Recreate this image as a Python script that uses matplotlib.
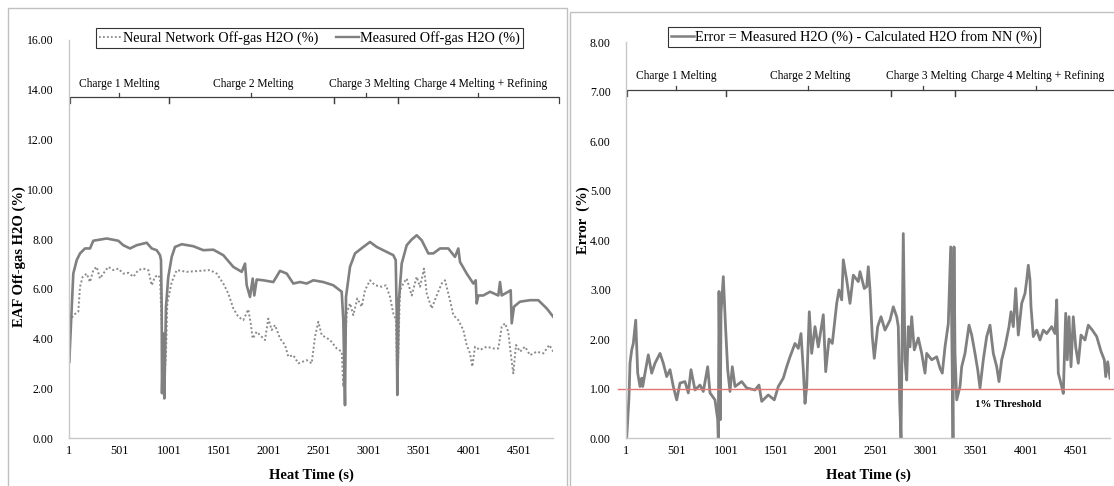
"""
EAF off-gas H2O: measured vs neural network, and the error between them.
Values read off the reference picture.
"""

import matplotlib.pyplot as plt
from matplotlib.patches import Rectangle
from matplotlib.lines import Line2D

plt.rcParams['font.family'] = ['Liberation Serif', 'DejaVu Serif']

GREY = '#808080'
LGREY = '#c0c0c0'
RED = '#e57373'

# Measured off-gas H2O (%)
t_meas = [3, 17, 43, 77, 110, 160, 210, 243, 377, 493, 543, 610, 677, 777, 827, 877,
          910, 920, 927, 930, 943, 953, 970, 993, 1027, 1060, 1127, 1243, 1343, 1443,
          1543, 1643, 1727, 1760, 1777, 1810, 1837, 1853, 1877, 1943, 2043, 2110, 2177,
          2243, 2310, 2377, 2443, 2543, 2643, 2727, 2743, 2760, 2770, 2810, 2860, 2943,
          3010, 3077, 3177, 3243, 3267, 3277, 3283, 3297, 3327, 3377, 3427, 3477, 3527,
          3593, 3643, 3710, 3793, 3860, 3893, 3910, 3977, 4043, 4067, 4077, 4093, 4143,
          4210, 4293, 4310, 4327, 4393, 4417, 4427, 4450, 4510, 4610, 4693, 4777, 4843]
h2o_meas = [3.06, 4.34, 6.61, 7.15, 7.42, 7.62, 7.62, 7.93, 8.02, 7.93, 7.75, 7.62, 7.75,
            7.85, 7.62, 7.55, 7.35, 7.15, 5.28, 1.80, 4.20, 1.59, 5.28, 6.48, 7.28, 7.68,
            7.79, 7.71, 7.55, 7.57, 7.35, 6.88, 6.68, 7.01, 6.14, 5.67, 6.41, 5.73, 6.37,
            6.34, 6.27, 6.72, 6.61, 6.21, 6.27, 6.21, 6.34, 6.27, 6.14, 5.88, 4.74, 1.32,
            5.67, 6.88, 7.42, 7.68, 7.88, 7.68, 7.48, 7.35, 7.15, 5.01, 1.73, 5.41, 7.01,
            7.75, 7.98, 8.15, 7.95, 7.42, 7.42, 7.62, 7.62, 7.28, 7.62, 7.08, 6.61, 6.21,
            6.34, 5.41, 5.73, 5.73, 5.88, 5.73, 6.27, 5.73, 5.88, 5.94, 4.61, 5.28, 5.48,
            5.54, 5.54, 5.21, 4.87]

# Neural network off-gas H2O (%)
t_nn = [3, 17, 43, 93, 110, 137, 177, 210, 243, 277, 310, 343, 393, 443, 493, 543, 593,
        643, 693, 743, 793, 827, 860, 893, 910, 950, 970, 983, 1027, 1077, 1177, 1310,
        1410, 1477, 1543, 1593, 1643, 1693, 1743, 1793, 1817, 1837, 1877, 1927, 1960,
        1993, 2027, 2060, 2110, 2160, 2193, 2243, 2293, 2377, 2427, 2460, 2493, 2527,
        2610, 2677, 2727, 2743, 2777, 2810, 2843, 2883, 2927, 2960, 3010, 3060, 3127,
        3170, 3210, 3243, 3270, 3283, 3310, 3343, 3377, 3427, 3477, 3510, 3550, 3577,
        3627, 3677, 3727, 3760, 3810, 3843, 3893, 3943, 3977, 4010, 4033, 4060, 4110,
        4177, 4243, 4293, 4327, 4360, 4393, 4417, 4443, 4470, 4510, 4560, 4610, 4677,
        4743, 4803, 4843]
h2o_nn = [3.13, 4.74, 4.94, 5.08, 6.08, 6.48, 6.61, 6.27, 6.75, 6.88, 6.41, 6.61, 6.88,
          6.75, 6.81, 6.61, 6.64, 6.48, 6.75, 6.81, 6.75, 6.14, 6.48, 6.55, 6.41, 2.06,
          3.40, 5.41, 6.27, 6.75, 6.68, 6.72, 6.75, 6.61, 6.21, 5.81, 5.21, 4.87, 4.74,
          5.17, 4.61, 4.00, 4.27, 4.07, 3.94, 4.80, 4.34, 4.54, 4.00, 3.74, 3.27, 3.33,
          3.00, 3.13, 3.00, 4.07, 4.67, 4.14, 3.94, 3.60, 3.47, 2.06, 5.01, 5.41, 4.94,
          5.61, 5.28, 5.94, 6.34, 6.14, 6.08, 6.14, 5.67, 5.01, 4.74, 2.00, 5.94, 6.21,
          6.41, 5.73, 6.48, 6.08, 6.81, 5.81, 5.21, 5.73, 6.21, 6.34, 5.54, 4.94, 4.74,
          4.34, 3.74, 3.40, 2.87, 3.67, 3.54, 3.67, 3.60, 3.60, 4.47, 4.61, 4.27, 3.40,
          2.60, 3.74, 3.47, 3.67, 3.33, 3.47, 3.40, 3.74, 3.47]

# Error = measured - NN (%)
t_err = [7, 17, 30, 40, 57, 73, 97, 117, 140, 157, 167, 190, 223, 257, 290, 340, 373,
         407, 440, 473, 507, 540, 590, 623, 650, 690, 740, 773, 817, 840, 890, 917, 923,
         930, 943, 950, 973, 997, 1017, 1040, 1063, 1090, 1157, 1207, 1290, 1330, 1357,
         1423, 1483, 1523, 1573, 1607, 1640, 1690, 1723, 1750, 1773, 1790, 1807, 1833,
         1857, 1890, 1923, 1973, 1997, 2030, 2063, 2107, 2130, 2157, 2173, 2207, 2240,
         2273, 2323, 2340, 2383, 2407, 2423, 2440, 2463, 2483, 2517, 2550, 2590, 2640,
         2673, 2707, 2723, 2737, 2750, 2773, 2790, 2807, 2823, 2840, 2857, 2883, 2923,
         2957, 2990, 3007, 3057, 3107, 3140, 3163, 3190, 3223, 3247, 3257, 3270, 3280,
         3290, 3307, 3340, 3357, 3390, 3430, 3457, 3490, 3517, 3540, 3573, 3607, 3640,
         3673, 3707, 3730, 3757, 3790, 3830, 3850, 3873, 3897, 3923, 3957, 3990, 4007,
         4023, 4040, 4050, 4073, 4107, 4140, 4173, 4207, 4257, 4290, 4307, 4323, 4357,
         4373, 4397, 4413, 4430, 4450, 4473, 4497, 4523, 4550, 4590, 4623, 4663, 4707,
         4750, 4783, 4797, 4817, 4840]
err = [0.00, 0.37, 0.83, 1.51, 1.78, 1.91, 2.38, 1.31, 1.04, 1.21, 1.04, 1.31, 1.68, 1.31,
       1.51, 1.71, 1.51, 1.24, 1.38, 1.04, 0.77, 1.11, 1.14, 0.91, 1.38, 0.97, 1.07, 0.94,
       1.44, 0.91, 0.77, 0.37, 0.00, 2.96, 0.37, 2.52, 3.26, 2.18, 1.38, 0.94, 1.44, 1.04,
       1.14, 1.01, 0.97, 1.07, 0.74, 0.87, 0.77, 1.04, 1.21, 1.44, 1.64, 1.91, 1.81, 2.11,
       1.38, 0.70, 1.04, 2.55, 1.71, 2.25, 1.84, 2.49, 1.34, 2.00, 1.91, 2.72, 2.99, 2.79,
       3.60, 3.19, 2.72, 3.29, 3.16, 3.36, 3.02, 3.06, 3.46, 2.99, 2.05, 1.61, 2.25, 2.45,
       2.18, 2.38, 2.65, 2.45, 2.25, 0.70, 0.00, 4.13, 1.58, 1.17, 2.25, 1.84, 2.45, 1.78,
       2.02, 1.71, 1.31, 1.71, 1.58, 1.64, 1.41, 1.31, 1.84, 2.31, 3.86, 2.31, 0.00, 3.86,
       1.71, 0.77, 1.04, 1.44, 1.71, 2.28, 2.08, 1.71, 1.38, 1.01, 1.58, 2.05, 2.28, 1.71,
       1.44, 1.14, 1.58, 1.84, 2.25, 2.55, 2.25, 3.02, 2.08, 2.72, 2.92, 3.19, 3.49, 3.19,
       2.65, 2.05, 2.18, 1.98, 2.18, 2.11, 2.25, 2.11, 2.79, 1.31, 1.04, 0.90, 2.52, 1.58,
       2.45, 1.44, 2.45, 1.84, 1.51, 2.08, 1.98, 2.28, 2.18, 2.05, 1.75, 1.58, 1.24, 1.54,
       1.21]

threshold = 1.0
x_ticks = [1, 501, 1001, 1501, 2001, 2501, 3001, 3501, 4001, 4501]

# charge brackets: (start, end, label, label x)
charges = [
    (10, 995, 'Charge 1 Melting', 500),
    (995, 2645, 'Charge 2 Melting', 1840),
    (2645, 3290, 'Charge 3 Melting', 3000),
    (3290, 4900, 'Charge 4 Melting + Refining', 4120),
]

W, H = 1114, 486
fig = plt.figure(figsize=(W / 100, H / 100), dpi=100)

# panel borders
fig.patches.append(Rectangle((8 / W, -0.1), 559 / W, 1.1 - 8 / H, transform=fig.transFigure,
                             fill=False, edgecolor=LGREY, lw=1))
fig.patches.append(Rectangle((570 / W, -0.1), 560 / W, 1.1 - 12 / H, transform=fig.transFigure,
                             fill=False, edgecolor=LGREY, lw=1))

ax1 = fig.add_axes([69 / W, 48 / H, 484 / W, 398 / H])
ax2 = fig.add_axes([626 / W, 48 / H, 484 / W, 396 / H])


def style_axis(ax, ymax, ystep):
    ax.set_xlim(0, 4840)
    ax.set_ylim(0, ymax)
    ax.set_xticks(x_ticks)
    ax.set_xticklabels([str(t) for t in x_ticks])
    n = int(ymax / ystep) + 1
    ax.set_yticks([i * ystep for i in range(n)])
    ax.set_yticklabels(['%.2f' % (i * ystep) for i in range(n)])
    for s in ['top', 'right']:
        ax.spines[s].set_visible(False)
    for s in ['left', 'bottom']:
        ax.spines[s].set_color('#c8c8c8')
        ax.spines[s].set_linewidth(1.0)
    ax.tick_params(axis='y', length=0, pad=11, labelsize=8.5)
    ax.tick_params(axis='x', length=0, pad=5, labelsize=8.8)
    ax.set_xlabel('Heat Time (s)', fontsize=10.5, fontweight='bold', labelpad=8)


def draw_brackets(ax, ybar, dy, ylab):
    for a, b, lab, xl in charges:
        ax.plot([a, a, b, b], [ybar - dy, ybar, ybar, ybar - dy], color='#404040', lw=0.9,
                clip_on=False)
        mid = (a + b) / 2
        ax.plot([mid, mid], [ybar, ybar + dy * 0.7], color='#404040', lw=0.9, clip_on=False)
        ax.text(xl, ylab, lab, ha='center', va='center', fontsize=8.3)


# left panel
style_axis(ax1, 16, 2)
ax1.plot(t_nn, h2o_nn, color='#8a8a8a', lw=1.4, ls=(0, (1, 1.2)))
ax1.plot(t_meas, h2o_meas, color=GREY, lw=1.9)
ax1.set_ylabel('EAF Off-gas H2O (%)', fontsize=10.5, fontweight='bold')
ax1.yaxis.set_label_coords(-0.088, 0.457)
draw_brackets(ax1, 13.7, 0.25, 14.25)

handles1 = [Line2D([], [], color='#8a8a8a', lw=1.3, ls=(0, (1, 1.2))),
            Line2D([], [], color=GREY, lw=1.7)]
leg1 = fig.legend(handles1, ['Neural Network Off-gas H2O (%)', 'Measured Off-gas H2O (%)'],
                  loc='center', bbox_to_anchor=(309.5 / W, (H - 38) / H), ncol=2,
                  fontsize=10.3, frameon=True, fancybox=False, handlelength=1.6,
                  handletextpad=0.1, columnspacing=1.2, borderpad=0.2)
leg1.get_frame().set_edgecolor('black')
leg1.get_frame().set_linewidth(0.8)

# right panel
style_axis(ax2, 8, 1)
ax2.plot(t_err, err, color=GREY, lw=2.0)
ax2.plot([-80, 4880], [threshold, threshold], color=RED, lw=1.0, clip_on=False)
ax2.text(3820, 0.67, '1% Threshold', ha='center', va='center', fontsize=7.8, fontweight='bold')
ax2.set_ylabel('Error  (%)', fontsize=10.5, fontweight='bold')
ax2.yaxis.set_label_coords(-0.074, 0.55)
draw_brackets(ax2, 7.03, 0.12, 7.31)

handles2 = [Line2D([], [], color=GREY, lw=1.8)]
leg2 = fig.legend(handles2, ['Error = Measured H2O (%) - Calculated H2O from NN (%)'],
                  loc='center', bbox_to_anchor=(854 / W, (H - 37) / H), ncol=1,
                  fontsize=10.3, frameon=True, fancybox=False, handlelength=1.6,
                  handletextpad=0.1, borderpad=0.2)
leg2.get_frame().set_edgecolor('black')
leg2.get_frame().set_linewidth(0.8)

fig.savefig('out.png', dpi=100)
